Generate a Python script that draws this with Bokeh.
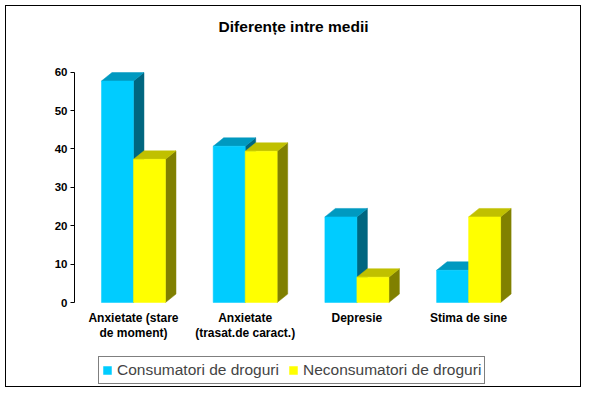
from bokeh.plotting import figure
from bokeh.models import Range1d, FixedTicker, Legend, LegendItem, Label
from bokeh.embed import file_html
from bokeh.resources import INLINE

# ---- data ----
categories = ["Anxietate (stare\nde moment)", "Anxietate\n(trasat.de caract.)", "Depresie", "Stima de sine"]
consumatori = [57.7, 40.7, 22.3, 8.4]
neconsumatori = [37.3, 39.4, 6.6, 22.3]
series_names = ["Consumatori de droguri", "Neconsumatori de droguri"]
y_ticks = [0, 10, 20, 30, 40, 50, 60]
title_text = "Diferențe intre medii"

# ---- style ----
FONT = "Liberation Sans"
BAR_W = 0.2865
DX = 0.094
DY = 2.2
cyan = dict(front="#00CCFF", top="#0099C0", side="#006680")
yellow = dict(front="#FFFF00", top="#C0C000", side="#808000")

p = figure(width=576, height=382, x_range=Range1d(-0.028, 4.081), y_range=Range1d(-22.4, 77.1),
           output_backend="svg", toolbar_location=None,
           min_border_left=68, min_border_right=49, min_border_top=0, min_border_bottom=0)
p.xgrid.visible = False
p.ygrid.visible = False
p.outline_line_color = None
p.background_fill_color = "white"
p.border_fill_color = "white"
p.stylesheets = [":host { margin-left: 5px; margin-top: 5px; border: 1px solid #000; }"]

# chart title
p.add_layout(Label(x=1.933, y=71.8, text=title_text, text_align="center", text_baseline="middle",
                   text_font=FONT, text_font_style="bold", text_font_size="15.5px",
                   text_color="black"))

centers = [i + 0.5 for i in range(len(categories))]


def draw_series(xcs, vals, col):
    xs_side, ys_side, xs_top, ys_top = [], [], [], []
    for xc, v in zip(xcs, vals):
        l, r = xc - BAR_W / 2, xc + BAR_W / 2
        xs_side.append([r, r + DX, r + DX, r])
        ys_side.append([0, DY, v + DY, v])
        xs_top.append([l, l + DX, r + DX, r])
        ys_top.append([v, v + DY, v + DY, v])
    p.patches(xs_side, ys_side, fill_color=col["side"], line_color=col["side"], line_width=0.5)
    p.patches(xs_top, ys_top, fill_color=col["top"], line_color=col["top"], line_width=0.5)
    return p.vbar(x=xcs, top=vals, bottom=0, width=BAR_W, fill_color=col["front"],
                  line_color=col["front"], line_width=0.5)


r1 = draw_series([c - BAR_W / 2 for c in centers], consumatori, cyan)
r2 = draw_series([c + BAR_W / 2 for c in centers], neconsumatori, yellow)

# y axis
p.yaxis.ticker = FixedTicker(ticks=y_ticks)
p.yaxis.bounds = (0, 60)
p.yaxis.major_tick_out = 4
p.yaxis.major_tick_in = 0
p.yaxis.minor_tick_line_color = None
p.yaxis.axis_line_color = "black"
p.yaxis.major_label_text_font = FONT
p.yaxis.major_label_text_font_style = "bold"
p.yaxis.major_label_text_font_size = "11.5px"
p.yaxis.major_label_text_color = "black"
p.yaxis.major_label_standoff = 3

# x axis (drawn at y = 0 inside the frame)
p.xaxis.fixed_location = 0
p.xaxis.ticker = FixedTicker(ticks=centers)
p.xaxis.major_label_overrides = {c: lab for c, lab in zip(centers, categories)}
p.xaxis.axis_line_color = None
p.xaxis.major_tick_line_color = None
p.xaxis.minor_tick_line_color = None
p.xaxis.major_label_text_font = FONT
p.xaxis.major_label_text_font_style = "bold"
p.xaxis.major_label_text_font_size = "12px"
p.xaxis.major_label_text_color = "black"
p.xaxis.major_label_text_line_height = 1.1
p.xaxis.major_label_standoff = 2

legend = Legend(items=[LegendItem(label=series_names[0], renderers=[r1]),
                       LegendItem(label=series_names[1], renderers=[r2])],
                orientation="horizontal", location=(24, 4), glyph_width=10, glyph_height=10,
                label_standoff=5, spacing=9, padding=3, margin=0, border_line_color="black",
                border_line_width=1, label_text_font=FONT, label_text_font_size="15.5px",
                label_height=20, background_fill_color="white", background_fill_alpha=1)
p.add_layout(legend)

open("out.html", "w").write(file_html(p, INLINE))
